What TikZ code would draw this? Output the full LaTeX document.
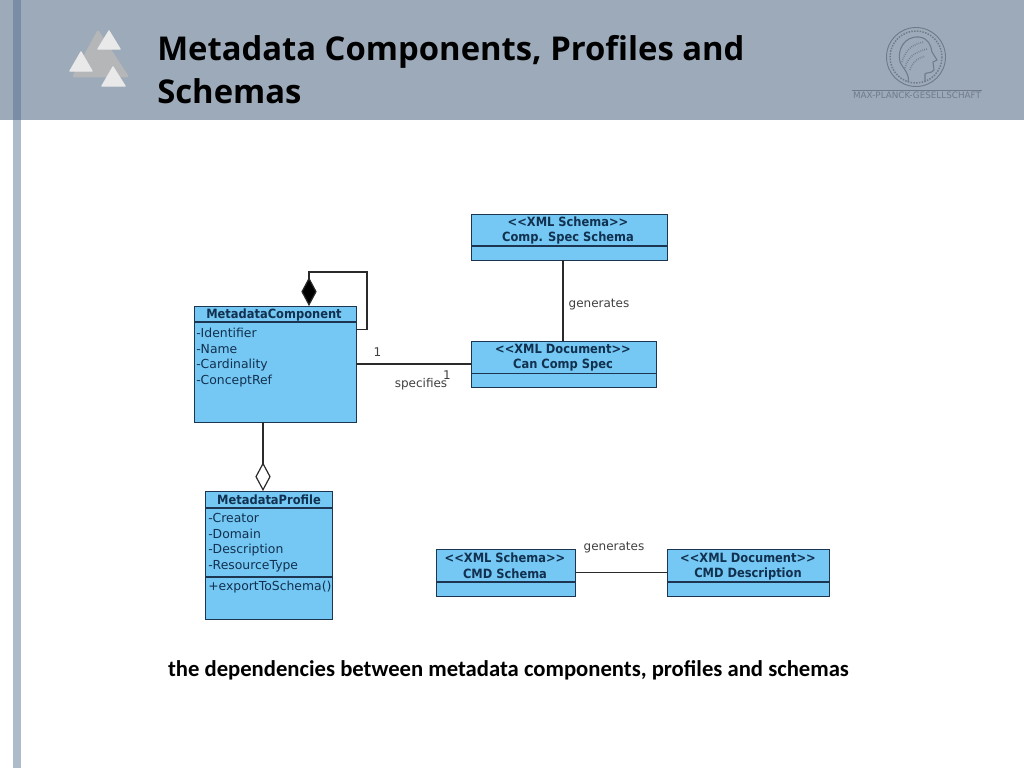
\documentclass[tikz,border=0pt]{standalone}
\usepackage{fontspec}
\setmainfont{DejaVu Sans}
\newfontfamily\titlefont{Open Sans}
\newfontfamily\capfont{Carlito}
\newfontfamily\umlfont{DejaVu Sans Condensed}
\usetikzlibrary{arrows.meta}
\definecolor{band}{HTML}{9DAAB9}
\definecolor{bardark}{HTML}{7A8DA6}
\definecolor{barlight}{HTML}{AEBBCB}
\definecolor{umlfill}{HTML}{74C8F3}
\definecolor{umlline}{HTML}{1C3550}
\definecolor{umltext}{HTML}{12304F}
\definecolor{linkc}{HTML}{2A2A2A}
\definecolor{triback}{HTML}{B4B6B8}
\definecolor{trifront}{HTML}{E9E9EA}
\definecolor{seal}{HTML}{6F7B88}
\tikzset{
  x=0.75pt,y=-0.75pt,
  umlbox/.style={draw=umlline,fill=umlfill,line width=1pt,inner sep=0pt,anchor=north west},
  divider/.style={draw=umlline,line width=0.9pt},
  link/.style={draw=linkc,line width=0.9pt},
  umltitle/.style={font=\umlfont\fontsize{9.55}{11}\selectfont\bfseries,text=umltext,inner sep=0pt,anchor=center},
  umlattr/.style={font=\fontsize{9.3}{11}\selectfont,text=umltext,inner sep=0pt,anchor=west},
  linklabel/.style={font=\fontsize{9}{11}\selectfont,text=black!75,inner sep=0pt,anchor=center},
  slidetitle/.style={font=\titlefont\fontsize{24.6}{32.5}\selectfont\bfseries,text=black,inner sep=0pt,anchor=base west},
  tri/.style={fill=trifront,draw=trifront,line width=1pt,line join=round},
  triB/.style={fill=triback,draw=triback,line width=2pt,line join=round},
  sealline/.style={draw=seal,line width=0.5pt}
}
\begin{document}
\begin{tikzpicture}
\useasboundingbox (0,0) rectangle (1024,768);
\fill[white] (0,0) rectangle (1024,768);
\fill[band] (0,0) rectangle (1024,120);
\fill[barlight] (13,120) rectangle (21,768);
\fill[bardark] (13,0) rectangle (21,120);
% logo
\fill[triB] (98,32) -- (127,76) -- (74,76) -- cycle;
\fill[tri] (109,31) -- (120,49) -- (98,49) -- cycle;
\fill[tri] (81,52) -- (92,71) -- (70,71) -- cycle;
\fill[tri] (113,67) -- (125,86) -- (102,86) -- cycle;
% seal
\draw[sealline,line width=0.7pt] (916,57) circle[radius=29.5];
\draw[sealline,line width=1.1pt,densely dotted] (916,57) circle[radius=26];
\draw[sealline,line width=0.8pt] (908,82) .. controls (910,74) and (904,70) .. (900,62) .. controls (897,50) and (904,36) .. (919,37) .. controls (928,38) and (931,45) .. (932,52) -- (937,60) -- (933,62) -- (934,70) .. controls (931,74) and (926,72) .. (925,74) -- (925,82);
\draw[sealline,densely dotted,line width=1.2pt] (902,62) .. controls (906,48) and (914,44) .. (924,42);
\draw[sealline,densely dotted,line width=1.2pt] (905,68) .. controls (908,56) and (916,52) .. (927,49);
\draw[sealline,densely dotted,line width=1.2pt] (910,70) .. controls (912,62) and (918,58) .. (925,56);
\draw[sealline] (852,90) -- (982,90);
\node[inner sep=0pt,text=seal,font=\fontsize{6.6}{7}\selectfont] (sealname) at (917,95.5) {MAX-PLANCK-GESELLSCHAFT};
% title
\node[slidetitle] (title1) at (157,60) {Metadata Components, Profiles and};
\node[slidetitle] (title2) at (157,103) {Schemas};
% boxes
\node[umlbox,minimum width=121.5pt,minimum height=87pt] (comp) at (194,306) {};
\draw[divider] (194,322) -- (356,322);
\node[umltitle] (compT) at (274,314.5) {MetadataComponent};
\node[umlattr] at (196,333) (ca1) {-Identifier};
\node[umlattr] at (196,349) (ca2) {-Name};
\node[umlattr] at (196,365.5) (ca3) {-Cardinality};
\node[umlattr] at (196,381.5) (ca4) {-ConceptRef};

\node[umlbox,minimum width=147pt,minimum height=34.5pt] (css) at (471,214) {};
\draw[divider] (471,246) -- (667,246);
\node[umltitle] (cssA) at (568,222) {<{}<XML Schema>{}>};
\node[umltitle] (cssB) at (568,238) {Comp. Spec Schema};

\node[umlbox,minimum width=138.75pt,minimum height=34.5pt] (ccs) at (471,341) {};
\draw[divider] (471,373.5) -- (656,373.5);
\node[umltitle] (ccsA) at (563,349) {<{}<XML Document>{}>};
\node[umltitle] (ccsB) at (563,365.5) {Can Comp Spec};

\node[umlbox,minimum width=95.25pt,minimum height=96pt] (prof) at (205,491) {};
\draw[divider] (205,508) -- (332,508);
\draw[divider] (205,577) -- (332,577);
\node[umltitle] (profT) at (269,499.5) {MetadataProfile};
\node[umlattr] at (208,518) (pa1) {-Creator};
\node[umlattr] at (208,534) (pa2) {-Domain};
\node[umlattr] at (208,550.5) (pa3) {-Description};
\node[umlattr] at (208,566.5) (pa4) {-ResourceType};
\node[umlattr] at (208,587.5) (pa5) {+exportToSchema()};

\node[umlbox,minimum width=104.25pt,minimum height=35.25pt] (cmds) at (436,549) {};
\draw[divider] (436,582) -- (575,582);
\node[umltitle] (cmdsA) at (505,557.5) {<{}<XML Schema>{}>};
\node[umltitle] (cmdsB) at (505,573.5) {CMD Schema};

\node[umlbox,minimum width=121.5pt,minimum height=35.25pt] (cmdd) at (667,549) {};
\draw[divider] (667,582) -- (829,582);
\node[umltitle] (cmddA) at (748,557.5) {<{}<XML Document>{}>};
\node[umltitle] (cmddB) at (748,573.5) {CMD Description};
% connectors
\coordinate (loopA) at (356,329.5);
\coordinate (loopB) at (367,329.5);
\coordinate (loopC) at (367,272);
\coordinate (loopD) at (309,272);
\draw[link,-{Diamond[length=21.5pt,width=11.5pt,fill=black]}] (loopA) -- (loopB) -- (loopC) -- (loopD) -- (loopD |- comp.north);
\coordinate (openTop) at (263,422);
\draw[link,-{Diamond[open,length=21.5pt,width=11.5pt]}] (openTop) -- (openTop |- prof.north);
\coordinate (specA) at (356,364);
\draw[link] (specA) -- (specA -| ccs.west);
\coordinate (genA) at (563,260);
\draw[link] (genA) -- (genA |- ccs.north);
\coordinate (genB) at (575,572.5);
\draw[link] (genB) -- (genB -| cmdd.west);
% labels
\node[linklabel] (one1) at (377.5,352.5) {1};
\node[linklabel] (one2) at (447,375) {1};
\node[linklabel] (spec) at (421,384) {specifies};
\node[linklabel] (gen1) at (599,304.5) {generates};
\node[linklabel] (gen2) at (614,547.5) {generates};
% caption
\node[inner sep=0pt,font=\capfont\fontsize{17}{20}\selectfont\bfseries,text=black] (caption) at (508.5,670.5) {the dependencies between metadata components, profiles and schemas};
\end{tikzpicture}
\end{document}
